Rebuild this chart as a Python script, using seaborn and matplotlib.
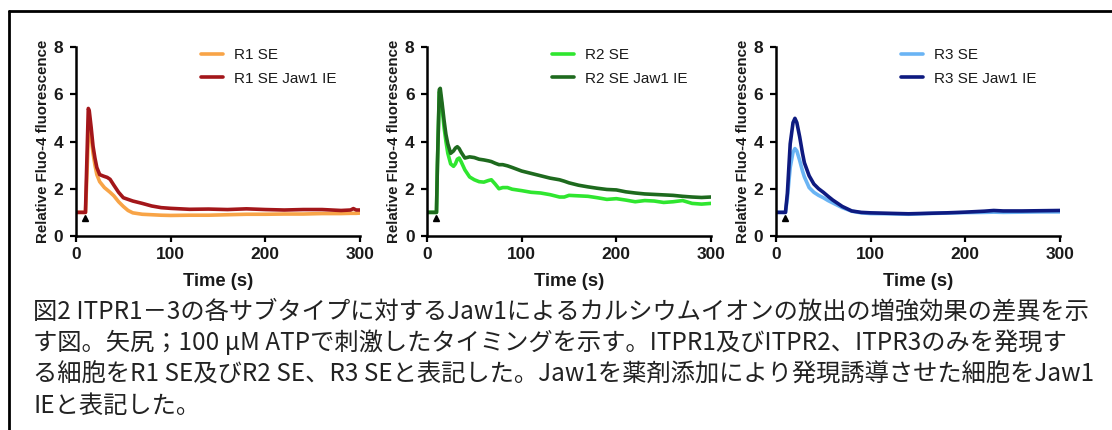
import matplotlib
matplotlib.use("Agg")
import matplotlib.pyplot as plt
import seaborn as sns
from matplotlib.lines import Line2D

sns.set_theme(style="ticks")
plt.rcParams['font.family'] = ['Liberation Sans', 'DejaVu Sans']

# ---------------- data ----------------
t1 = [0, 5, 10, 11, 13, 14, 16, 18, 20, 22, 25, 28, 30, 33, 36, 40, 45, 50, 55, 60,
      70, 80, 90, 100, 120, 140, 160, 180, 200, 220, 240, 260, 280, 290, 293, 296, 300]
r1_se = [1.0, 1.0, 1.0, 2.0, 4.2, 4.6, 4.2, 3.5, 3.0, 2.6, 2.3, 2.15, 2.05, 1.95, 1.85, 1.7,
         1.45, 1.25, 1.08, 0.98, 0.92, 0.9, 0.88, 0.87, 0.88, 0.88, 0.9, 0.92, 0.92, 0.93,
         0.93, 0.95, 0.95, 0.96, 0.96, 0.96, 0.97]
r1_jaw = [1.0, 1.0, 1.0, 2.5, 5.4, 5.3, 4.6, 3.8, 3.3, 2.9, 2.6, 2.55, 2.52, 2.48, 2.4, 2.15,
          1.85, 1.62, 1.55, 1.48, 1.38, 1.27, 1.2, 1.17, 1.13, 1.14, 1.12, 1.15, 1.12, 1.1,
          1.12, 1.12, 1.08, 1.1, 1.16, 1.1, 1.1]

t2 = [0, 5, 10, 11, 13, 14, 16, 18, 20, 22, 25, 28, 30, 32, 34, 36, 40, 45, 50, 55, 60, 65,
      68, 72, 76, 80, 85, 90, 100, 110, 120, 130, 140, 145, 150, 160, 170, 180, 190, 200,
      210, 220, 230, 240, 250, 260, 270, 280, 290, 300]
r2_se = [1.0, 1.0, 1.0, 3.0, 6.1, 6.0, 5.4, 4.6, 4.0, 3.5, 3.05, 2.95, 3.05, 3.25, 3.3, 3.15,
         2.8, 2.5, 2.38, 2.3, 2.28, 2.35, 2.38, 2.2, 2.0, 2.05, 2.05, 1.98, 1.92, 1.85, 1.82,
         1.75, 1.65, 1.65, 1.72, 1.7, 1.68, 1.62, 1.55, 1.58, 1.52, 1.45, 1.5, 1.48, 1.42,
         1.45, 1.5, 1.38, 1.35, 1.38]
r2_jaw = [1.0, 1.0, 1.0, 3.0, 6.2, 6.25, 5.6, 4.9, 4.3, 3.9, 3.5, 3.6, 3.72, 3.78, 3.7, 3.55,
          3.3, 3.35, 3.32, 3.25, 3.22, 3.18, 3.15, 3.08, 3.02, 3.02, 2.97, 2.9, 2.75, 2.65,
          2.55, 2.45, 2.38, 2.32, 2.25, 2.15, 2.08, 2.02, 1.97, 1.95, 1.87, 1.82, 1.78, 1.76,
          1.74, 1.72, 1.68, 1.65, 1.63, 1.65]

t3 = [0, 5, 10, 12, 15, 18, 20, 22, 25, 28, 30, 35, 40, 45, 50, 55, 60, 70, 80, 90, 100,
      120, 140, 160, 180, 200, 220, 230, 240, 260, 280, 300]
r3_se = [1.0, 1.0, 1.0, 1.6, 2.9, 3.55, 3.7, 3.6, 3.2, 2.75, 2.5, 2.05, 1.85, 1.72, 1.62,
         1.5, 1.4, 1.2, 1.05, 0.98, 0.95, 0.94, 0.92, 0.95, 0.97, 0.99, 1.0, 1.01, 1.0, 1.01,
         1.02, 1.02]
r3_jaw = [1.0, 1.0, 1.0, 1.8, 3.9, 4.8, 4.98, 4.8, 4.2, 3.5, 3.1, 2.55, 2.2, 2.0, 1.85,
          1.68, 1.52, 1.25, 1.06, 1.0, 0.98, 0.96, 0.94, 0.96, 0.98, 1.01, 1.05, 1.08, 1.06,
          1.06, 1.07, 1.08]

stim_time = 10
stim_y = 0.75

panels = [
    (t1, r1_se, r1_jaw, "R1 SE", "R1 SE Jaw1 IE", "#F8A447", "#A3161A"),
    (t2, r2_se, r2_jaw, "R2 SE", "R2 SE Jaw1 IE", "#2FE62F", "#1E6A1E"),
    (t3, r3_se, r3_jaw, "R3 SE", "R3 SE Jaw1 IE", "#6AB4F4", "#0E1A80"),
]
x_ticks = [0, 100, 200, 300]
y_ticks = [0, 2, 4, 6, 8]
xlabel = "Time (s)"
ylabel = "Relative Fluo-4 fluorescence"
caption = ("図2 ITPR1－3の各サブタイプに対するJaw1によるカルシウムイオンの放出の増強効果の差異を示\n"
           "す図。矢尻；100 μM ATPで刺激したタイミングを示す。ITPR1及びITPR2、ITPR3のみを発現す\n"
           "る細胞をR1 SE及びR2 SE、R3 SEと表記した。Jaw1を薬剤添加により発現誘導させた細胞をJaw1\n"
           "IEと表記した。")

# ---------------- figure ----------------
W, H = 1112, 430
fig = plt.figure(figsize=(W / 100, H / 100), dpi=100)
fig.patch.set_facecolor("white")

lefts = [76, 427, 776]
aw = 284
top_px, bot_px = 47, 236
for (t, se, jaw, l1, l2, c1, c2), lp in zip(panels, lefts):
    ax = fig.add_axes([lp / W, 1 - bot_px / H, aw / W, (bot_px - top_px) / H])
    ax.set_facecolor("white")
    sns.lineplot(x=t, y=se, ax=ax, color=c1, lw=2.6, label=l1)
    sns.lineplot(x=t, y=jaw, ax=ax, color=c2, lw=2.6, label=l2)
    ax.plot([stim_time], [stim_y], marker="^", color="black", ms=5, ls="none")
    ax.set_xlim(0, 300)
    ax.set_ylim(0, 8)
    ax.set_xticks(x_ticks)
    ax.set_yticks(y_ticks)
    for s in ["top", "right"]:
        ax.spines[s].set_visible(False)
    for s in ["left", "bottom"]:
        ax.spines[s].set_linewidth(1.8)
        ax.spines[s].set_color("black")
    ax.tick_params(axis="both", length=4, width=1.6, color="black", labelsize=12.5)
    ax.tick_params(axis="x", pad=4)
    ax.tick_params(axis="y", pad=5)
    for lab in ax.get_xticklabels() + ax.get_yticklabels():
        lab.set_fontweight("bold")
        lab.set_color("#1a1a1a")
    ax.set_xlabel(xlabel, fontsize=13.2, fontweight="bold", color="#1a1a1a", labelpad=8)
    ax.set_ylabel(ylabel, fontsize=10.8, fontweight="bold", color="#1a1a1a", labelpad=3)
    leg = ax.legend(loc="upper left", bbox_to_anchor=(0.42, 1.025), frameon=False,
                    fontsize=11, handlelength=1.4, handletextpad=0.75,
                    labelspacing=0.6, borderaxespad=0)
    for line in leg.get_lines():
        line.set_linewidth(2.6)
    for txt in leg.get_texts():
        txt.set_color("#1a1a1a")

# caption
fig.text(33 / W, 1 - 298 / H, caption, ha="left", va="top", fontsize=17.5,
         family=["Noto Sans CJK JP", "DejaVu Sans"], color="#222222",
         linespacing=1.28)

# outer frame (top and left edges visible)
fig.add_artist(Line2D([9 / W, 1.0], [1 - 11 / H, 1 - 11 / H], transform=fig.transFigure,
                      color="black", lw=2))
fig.add_artist(Line2D([9 / W, 9 / W], [1 - 11 / H, 0], transform=fig.transFigure,
                      color="black", lw=2))

fig.savefig("out.png", dpi=100, facecolor="white")
